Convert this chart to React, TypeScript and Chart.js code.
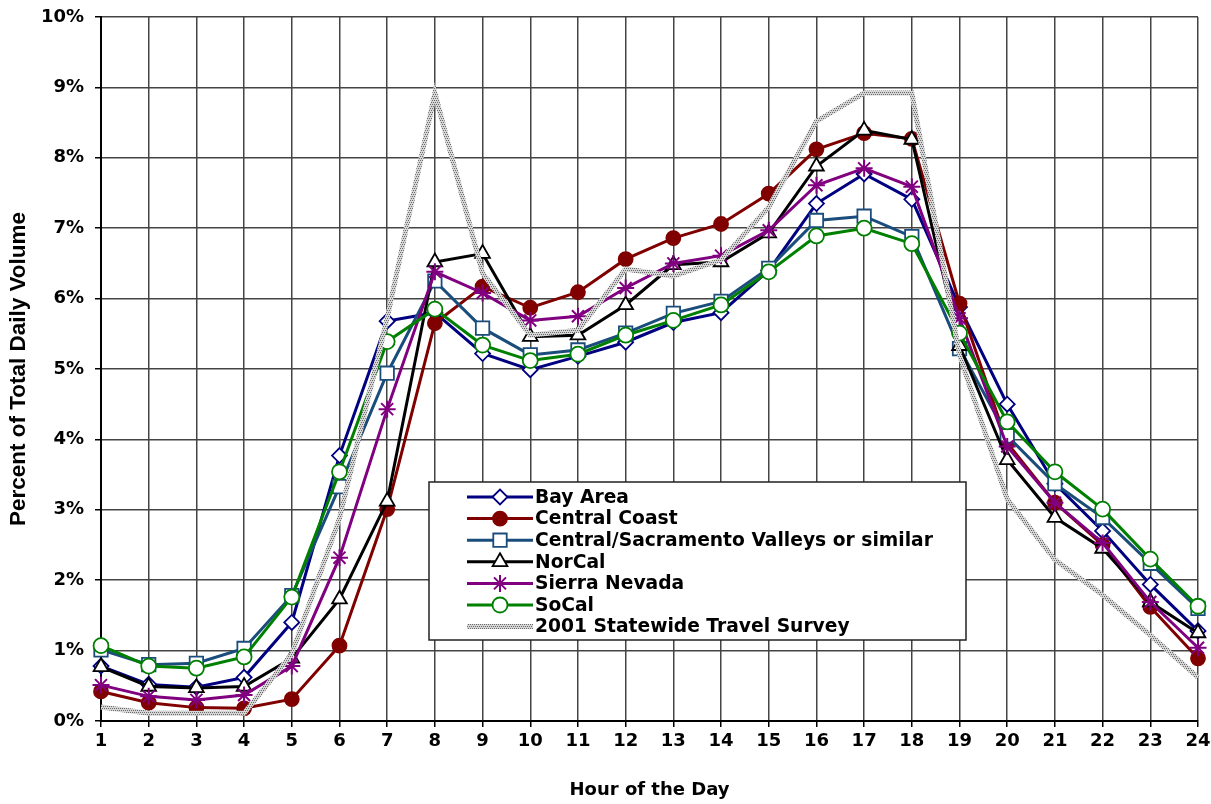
import React, { useEffect, useRef } from 'react';
import { Chart, registerables } from 'chart.js';
import { drawPoint } from 'chart.js/helpers';

Chart.register(...registerables);

const hours = ['1', '2', '3', '4', '5', '6', '7', '8', '9', '10', '11', '12', '13', '14', '15', '16', '17', '18', '19', '20', '21', '22', '23', '24'];

const bayArea = [0.78, 0.52, 0.48, 0.62, 1.40, 3.77, 5.68, 5.80, 5.22, 4.99, 5.18, 5.38, 5.66, 5.80, 6.40, 7.35, 7.77, 7.41, 5.88, 4.50, 3.37, 2.70, 1.94, 1.28];
const centralCoast = [0.42, 0.26, 0.19, 0.18, 0.31, 1.07, 3.01, 5.65, 6.17, 5.87, 6.09, 6.56, 6.86, 7.06, 7.49, 8.12, 8.35, 8.27, 5.93, 3.95, 3.10, 2.50, 1.62, 0.89];
const centralValleys = [1.01, 0.80, 0.82, 1.03, 1.78, 3.33, 4.94, 6.25, 5.58, 5.20, 5.27, 5.51, 5.79, 5.96, 6.43, 7.11, 7.17, 6.88, 5.29, 4.05, 3.37, 2.89, 2.24, 1.60];
const norCal = [0.77, 0.49, 0.47, 0.49, 0.89, 1.73, 3.12, 6.52, 6.64, 5.46, 5.48, 5.91, 6.48, 6.52, 6.93, 7.88, 8.39, 8.26, 5.33, 3.71, 2.89, 2.45, 1.69, 1.25];
const sierraNevada = [0.51, 0.35, 0.30, 0.37, 0.78, 2.32, 4.43, 6.38, 6.08, 5.69, 5.75, 6.15, 6.50, 6.61, 6.97, 7.61, 7.85, 7.59, 5.72, 3.90, 3.10, 2.53, 1.69, 1.04];
const soCal = [1.07, 0.78, 0.75, 0.91, 1.76, 3.54, 5.39, 5.85, 5.34, 5.12, 5.21, 5.48, 5.69, 5.91, 6.38, 6.89, 7.00, 6.78, 5.51, 4.25, 3.54, 3.01, 2.30, 1.63];
const survey2001 = [0.20, 0.11, 0.11, 0.11, 0.95, 2.88, 5.72, 8.92, 6.36, 5.48, 5.55, 6.42, 6.32, 6.55, 7.30, 8.52, 8.92, 8.92, 5.20, 3.15, 2.29, 1.79, 1.22, 0.62];

const seriesLabels = [
  'Bay Area',
  'Central Coast',
  'Central/Sacramento Valleys or similar',
  'NorCal',
  'Sierra Nevada',
  'SoCal',
  '2001 Statewide Travel Survey',
];

const boxLegend = {
  id: 'boxLegend',
  afterDraw(chart: any) {
    const ctx = chart.ctx as CanvasRenderingContext2D;
    const bx = 429, by = 482, bw = 537, bh = 158;
    ctx.save();
    ctx.fillStyle = '#ffffff';
    ctx.fillRect(bx, by, bw, bh);
    ctx.strokeStyle = '#222';
    ctx.lineWidth = 1.5;
    ctx.strokeRect(bx, by, bw, bh);
    chart.data.datasets.forEach((ds: any, i: number) => {
      const y = 497 + i * 21.6;
      ctx.setLineDash([]);
      ctx.strokeStyle = ds.borderColor;
      ctx.lineWidth = ds.borderWidth;
      ctx.beginPath();
      ctx.moveTo(467, y);
      ctx.lineTo(533, y);
      ctx.stroke();
      if (ds.pointRadius > 0) {
        ctx.fillStyle = ds.pointBackgroundColor;
        ctx.strokeStyle = ds.pointBorderColor;
        ctx.lineWidth = ds.pointBorderWidth;
        drawPoint(ctx, { pointStyle: ds.pointStyle, radius: ds.pointRadius, rotation: 0, borderWidth: ds.pointBorderWidth } as any, 500, y);
      }
      ctx.fillStyle = '#000';
      ctx.font = 'bold 18.7px "DejaVu Sans"';
      ctx.textAlign = 'left';
      ctx.textBaseline = 'middle';
      ctx.fillText(ds.label, 535, y + 1);
    });
    ctx.restore();
  },
};

export default function App() {
  const ref = useRef<HTMLCanvasElement>(null);

  useEffect(() => {
    document.body.style.margin = '0';
    const canvas = ref.current!;
    const pc = document.createElement('canvas');
    pc.width = 4;
    pc.height = 4;
    const pctx = pc.getContext('2d')!;
    pctx.fillStyle = '#d6d6d6';
    pctx.fillRect(0, 0, 4, 4);
    pctx.fillStyle = '#6a6a6a';
    pctx.fillRect(0, 0, 1, 1);
    pctx.fillRect(2, 0, 1, 1);
    pctx.fillRect(1, 2, 1, 1);
    pctx.fillRect(3, 2, 1, 1);
    const pattern = canvas.getContext('2d')!.createPattern(pc, 'repeat');

    const mk = (i: number, data: number[], color: string, style: string, radius: number, fill: string, extra: any = {}) => ({
      label: seriesLabels[i],
      data,
      borderColor: color,
      backgroundColor: color,
      borderWidth: 3,
      pointStyle: style,
      pointRadius: radius,
      pointHoverRadius: radius,
      pointBackgroundColor: fill,
      pointBorderColor: color,
      pointBorderWidth: 1.8,
      tension: 0,
      order: 7 - i,
      ...extra,
    });

    const chart = new Chart(canvas, {
      type: 'line',
      data: {
        labels: hours,
        datasets: [
          mk(0, bayArea, '#000080', 'rectRot', 7.5, '#ffffff'),
          mk(1, centralCoast, '#800000', 'circle', 7, '#800000'),
          mk(2, centralValleys, '#1a4d7c', 'rect', 9.5, '#ffffff'),
          mk(3, norCal, '#000000', 'triangle', 8.5, '#ffffff'),
          mk(4, sierraNevada, '#800080', 'star', 8.5, '#800080', { pointBorderWidth: 2 }),
          mk(5, soCal, '#008000', 'circle', 7.5, '#ffffff'),
          mk(6, survey2001, pattern as any, 'circle', 0, '#ffffff', { borderWidth: 5 }),
        ],
      },
      options: {
        responsive: false,
        animation: false,
        devicePixelRatio: 1,
        layout: { padding: { top: 17, right: 13, left: 0, bottom: 0 } },
        plugins: {
          legend: { display: false },
          tooltip: { enabled: false },
        },
        scales: {
          x: {
            type: 'category',
            offset: false,
            grid: { offset: false, color: '#444', lineWidth: 1.5, tickLength: 6, tickColor: '#000', drawTicks: true },
            border: { color: '#000', width: 2 },
            ticks: {
              color: '#000',
              font: { family: 'DejaVu Sans', weight: 'bold', size: 18 },
              padding: 4,
              maxRotation: 0,
              autoSkip: false,
            },
            title: {
              display: true,
              text: 'Hour of the Day',
              color: '#000',
              font: { family: 'DejaVu Sans', weight: 'bold', size: 18 },
              padding: { top: 0, bottom: 3 },
            },
            afterFit(s: any) {
              s.height = 83;
              s.paddingLeft = 0;
              s.paddingRight = 0;
            },
          },
          y: {
            min: 0,
            max: 10,
            grid: { color: '#444', lineWidth: 1.5, tickLength: 6, tickColor: '#000', drawTicks: true },
            border: { color: '#000', width: 2 },
            ticks: {
              stepSize: 1,
              color: '#000',
              font: { family: 'DejaVu Sans', weight: 'bold', size: 18 },
              padding: 11,
              callback: (v: any) => v + '%',
            },
            title: {
              display: true,
              text: 'Percent of Total Daily Volume',
              color: '#000',
              font: { family: 'Liberation Sans', weight: 'bold', size: 22.5 },
              padding: { top: 5, bottom: 0 },
            },
            afterFit(s: any) {
              s.width = 101;
              s.paddingTop = 0;
              s.paddingBottom = 0;
            },
          },
        },
      } as any,
      plugins: [boxLegend],
    });

    return () => chart.destroy();
  }, []);

  return (
    <div style={{ position: 'absolute', left: 0, top: 0, width: 1211, height: 804 }}>
      <canvas ref={ref} width={1211} height={804} />
    </div>
  );
}
